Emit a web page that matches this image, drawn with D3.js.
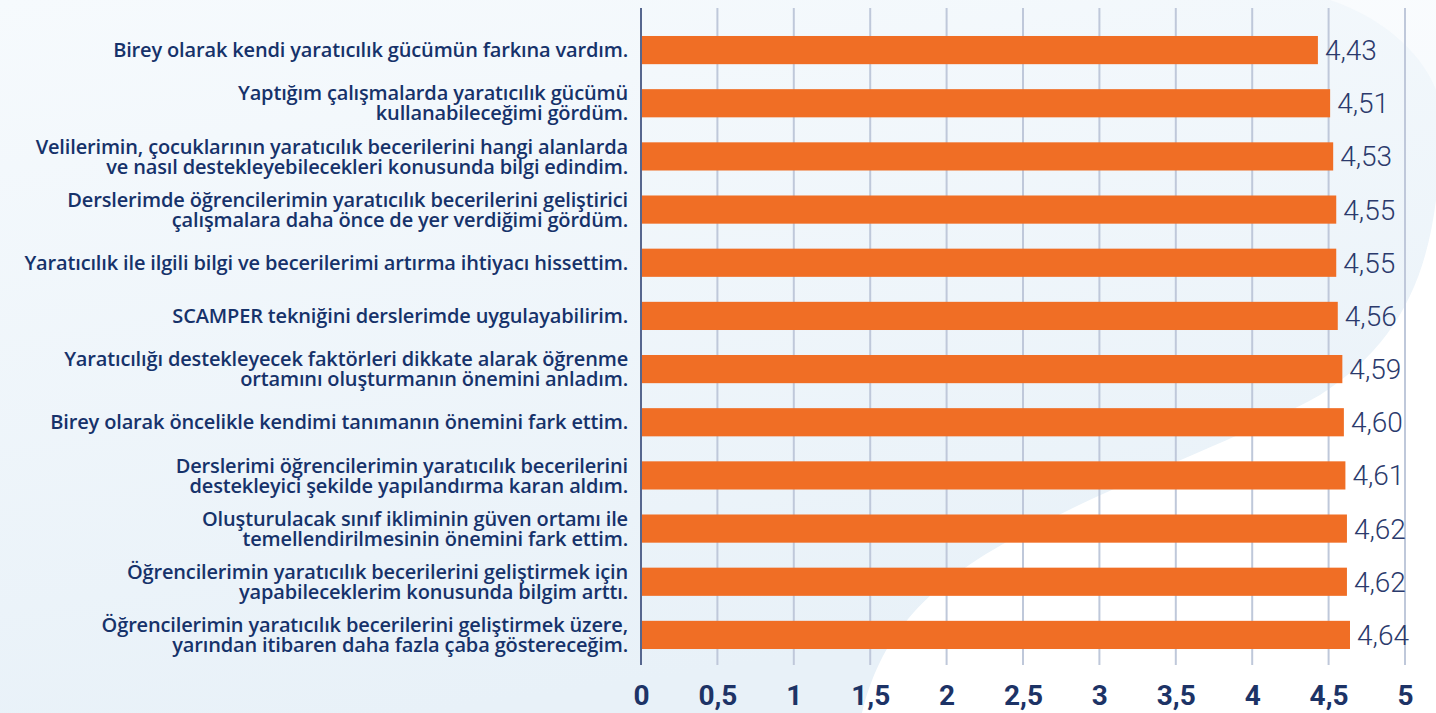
<!DOCTYPE html>
<html><head><meta charset="utf-8">
<script src="https://cdn.jsdelivr.net/npm/d3@7"></script>
<style>html,body{margin:0;padding:0;overflow:hidden;background:#f2f7fb}</style>
</head><body>
<svg id="chart" width="1436" height="713"></svg>
<script>
const categories = [
  ["Birey olarak kendi yaratıcılık gücümün farkına vardım."],
  ["Yaptığım çalışmalarda yaratıcılık gücümü", "kullanabileceğimi gördüm."],
  ["Velilerimin, çocuklarının yaratıcılık becerilerini hangi alanlarda", "ve nasıl destekleyebilecekleri konusunda bilgi edindim."],
  ["Derslerimde öğrencilerimin yaratıcılık becerilerini geliştirici", "çalışmalara daha önce de yer verdiğimi gördüm."],
  ["Yaratıcılık ile ilgili bilgi ve becerilerimi artırma ihtiyacı hissettim."],
  ["SCAMPER tekniğini derslerimde uygulayabilirim."],
  ["Yaratıcılığı destekleyecek faktörleri dikkate alarak öğrenme", "ortamını oluşturmanın önemini anladım."],
  ["Birey olarak öncelikle kendimi tanımanın önemini fark ettim."],
  ["Derslerimi öğrencilerimin yaratıcılık becerilerini", "destekleyici şekilde yapılandırma karan aldım."],
  ["Oluşturulacak sınıf ikliminin güven ortamı ile", "temellendirilmesinin önemini fark ettim."],
  ["Öğrencilerimin yaratıcılık becerilerini geliştirmek için", "yapabileceklerim konusunda bilgim arttı."],
  ["Öğrencilerimin yaratıcılık becerilerini geliştirmek üzere,", "yarından itibaren daha fazla çaba göstereceğim."]
];
const values = [4.43, 4.51, 4.53, 4.55, 4.55, 4.56, 4.59, 4.60, 4.61, 4.62, 4.62, 4.64];
const tickValues = [0, 0.5, 1, 1.5, 2, 2.5, 3, 3.5, 4, 4.5, 5];
const tickLabels = ["0", "0,5", "1", "1,5", "2", "2,5", "3", "3,5", "4", "4,5", "5"];

const svg = d3.select("#chart");
const W = 1436, H = 713;

// background
const defs = svg.append("defs");
const g1 = defs.append("linearGradient").attr("id","bg").attr("x1","0").attr("y1","0").attr("x2","0.3").attr("y2","1");
g1.append("stop").attr("offset","0").attr("stop-color","#f6fafd");
g1.append("stop").attr("offset","1").attr("stop-color","#e8f1f8");
svg.append("rect").attr("width",W).attr("height",H).attr("fill","url(#bg)");
svg.append("path")
  .attr("d","M 862 713 C 880 640, 920 590, 1010 540 C 1120 480, 1240 440, 1320 395 C 1390 350, 1425 290, 1436 200 L 1436 713 Z")
  .attr("fill","#ffffff");
svg.append("path")
  .attr("d","M 1330 0 C 1390 20, 1425 60, 1436 90 L 1436 0 Z")
  .attr("fill","#ffffff").attr("opacity",0.5);

const x0 = 641, x1 = 1405;
const x = d3.scaleLinear().domain([0,5]).range([x0,x1]);
const y = d3.scaleBand().domain(d3.range(values.length)).range([11, 674]).padding(0.47);

const navy = "#16326a";

// gridlines
svg.append("g").selectAll("line").data(tickValues.slice(1)).join("line")
  .attr("x1",d=>x(d)).attr("x2",d=>x(d)).attr("y1",8).attr("y2",665)
  .attr("stroke","#bfc8da").attr("stroke-width",2);

// bars
svg.append("g").selectAll("rect").data(values).join("rect")
  .attr("x",x(0)).attr("y",(d,i)=>y(i)).attr("width",d=>x(d)-x(0)).attr("height",y.bandwidth())
  .attr("fill","#f06e25");

// axis line at 0
svg.append("line").attr("x1",x(0)).attr("x2",x(0)).attr("y1",8).attr("y2",665)
  .attr("stroke","#56668e").attr("stroke-width",2);

// value labels
svg.append("g").selectAll("text").data(values).join("text")
  .attr("x",d=>x(d)+7).attr("y",(d,i)=>y(i)+y.bandwidth()/2)
  .attr("dy","0.36em")
  .attr("font-family","Roboto, sans-serif").attr("font-weight",300).attr("font-size",28)
  .attr("fill","#2b3a6c")
  .text(d=>d.toFixed(2).replace(".",","));

// category labels
const cat = svg.append("g").selectAll("text").data(categories).join("text")
  .attr("text-anchor","end")
  .attr("font-family","'Open Sans', sans-serif").attr("font-weight",600).attr("font-size",20)
  .attr("letter-spacing","-0.15px")
  .attr("fill",navy)
  .attr("transform",(d,i)=>`translate(628,${y(i)+y.bandwidth()/2})`);
cat.each(function(lines){
  const t = d3.select(this);
  const n = lines.length;
  lines.forEach((s,k)=>{
    t.append("tspan").attr("x",0).attr("y",(k-(n-1)/2)*20).attr("dy","0.36em").text(s);
  });
});

// x tick labels
const axis = d3.axisBottom(x).tickValues(tickValues).tickFormat((d,i)=>tickLabels[i]).tickSize(0).tickPadding(0);
const ax = svg.append("g").attr("transform","translate(0,695)").call(axis);
ax.select(".domain").remove();
ax.selectAll("text").attr("dy","0.36em").attr("y",0)
  .attr("font-family","Roboto, sans-serif").attr("font-weight",700).attr("font-size",28)
  .attr("fill","#1d3366");
</script>
</body></html>
